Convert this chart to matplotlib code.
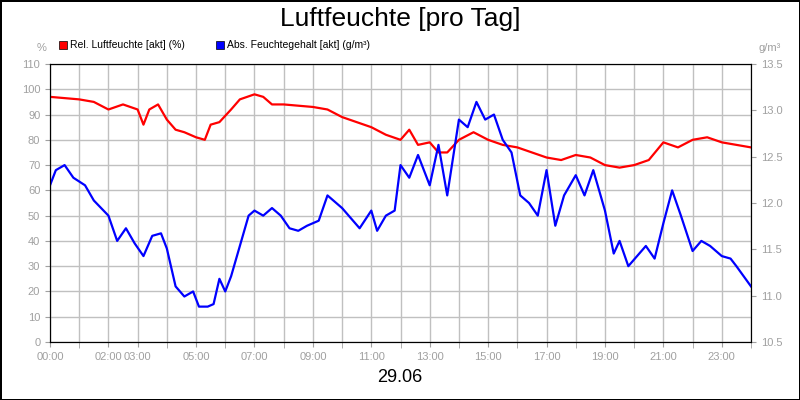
import matplotlib
matplotlib.use("Agg")
import matplotlib.pyplot as plt
import numpy as np

plt.rcParams['font.family'] = ['Liberation Sans', 'DejaVu Sans']

# relative humidity (%), hours
rel_h = [0, 1, 1.5, 2, 2.5, 3, 3.2, 3.4, 3.7, 4, 4.3, 4.6, 5, 5.3, 5.5, 5.8, 6.2, 6.5, 7, 7.3,
         7.6, 8, 9, 9.5, 10, 10.5, 11, 11.5, 12, 12.3, 12.6, 13, 13.3, 13.6, 14, 14.5, 15, 15.5,
         16, 16.5, 17, 17.5, 18, 18.5, 19, 19.5, 20, 20.5, 21, 21.5, 22, 22.5, 23, 23.5, 24]
rel_v = [97, 96, 95, 92, 94, 92, 86, 92, 94, 88, 84, 83, 81, 80, 86, 87, 92, 96, 98, 97,
         94, 94, 93, 92, 89, 87, 85, 82, 80, 84, 78, 79, 75, 75, 80, 83, 80, 78,
         77, 75, 73, 72, 74, 73, 70, 69, 70, 72, 79, 77, 80, 81, 79, 78, 77]

# absolute humidity, read on left % scale, converted to g/m3
abs_h = [0, 0.2, 0.5, 0.8, 1.2, 1.5, 2, 2.3, 2.6, 2.9, 3.2, 3.5, 3.8, 4, 4.3, 4.6, 4.9, 5.1, 5.4,
         5.6, 5.8, 6, 6.2, 6.5, 6.8, 7, 7.3, 7.6, 7.9, 8.2, 8.5, 8.8, 9.2, 9.5, 9.8, 10, 10.3,
         10.6, 11, 11.2, 11.5, 11.8, 12, 12.3, 12.6, 13, 13.3, 13.6, 14, 14.3, 14.6, 14.9, 15.2,
         15.5, 15.8, 16.1, 16.4, 16.7, 17, 17.3, 17.6, 18, 18.3, 18.6, 19, 19.3, 19.5, 19.8,
         20.1, 20.4, 20.7, 21, 21.3, 21.6, 22, 22.3, 22.6, 23, 23.3, 23.5, 24]
abs_pct = [62, 68, 70, 65, 62, 56, 50, 40, 45, 39, 34, 42, 43, 37, 22, 18, 20, 14, 14,
           15, 25, 20, 26, 38, 50, 52, 50, 53, 50, 45, 44, 46, 48, 58, 55, 53, 49,
           45, 52, 44, 50, 52, 70, 65, 74, 62, 78, 58, 88, 85, 95, 88, 90,
           80, 75, 58, 55, 50, 68, 46, 58, 66, 58, 68, 52, 35, 40, 30,
           34, 38, 33, 47, 60, 50, 36, 40, 38, 34, 33, 30, 22]
abs_v = [10.5 + p * 3 / 110 for p in abs_pct]

tick_hours = [0, 2, 3, 5, 7, 9, 11, 13, 15, 17, 19, 21, 23]
tick_labels = [f"{h:02d}:00" for h in tick_hours]

fig = plt.figure(figsize=(8, 4), dpi=100)
fig.patch.set_edgecolor('black')
fig.patch.set_linewidth(2)
ax = fig.add_axes([50 / 800, 58 / 400, 701 / 800, 278 / 400])
ax2 = ax.twinx()

ax.plot(rel_h, rel_v, color='#ff0000', lw=1.6)
ax2.plot(abs_h, abs_v, color='#0000ff', lw=1.6)

ax.set_xlim(0, 24)
ax.set_ylim(0, 110)
ax2.set_ylim(10.5, 13.5)
ax.set_xticks(range(25), minor=True)
ax.set_xticks(tick_hours)
ax.set_xticklabels(tick_labels)
ax.set_yticks(range(0, 111, 10))
ax2.set_yticks(np.arange(10.5, 13.51, 0.5))
ax.grid(True, which='both', axis='x', color='#c0c0c0', lw=1)
ax.grid(True, axis='y', color='#c0c0c0', lw=1)
ax.set_axisbelow(True)
for a in (ax, ax2):
    a.tick_params(colors='#a0a0a0', labelsize=8, which='both')
    for s in a.spines.values():
        s.set_color('black')
ax.tick_params(axis='x', which='minor', length=4, color='#a0a0a0')

fig.text(0.5, 1 - 19 / 400, "Luftfeuchte [pro Tag]", ha='center', va='center', fontsize=19)
fig.text(0.5, 1 - 378 / 400, "29.06", ha='center', va='center', fontsize=13)
fig.text(42 / 800, 1 - 48 / 400, "%", ha='center', va='center', fontsize=8, color='#a0a0a0')
fig.text(770 / 800, 1 - 48 / 400, "g/m³", ha='center', va='center', fontsize=8, color='#a0a0a0')

fig.patches.append(plt.Rectangle((59 / 800, 1 - 49 / 400), 8 / 800, 8 / 400, transform=fig.transFigure,
                                 facecolor='#ff0000', edgecolor='black', lw=0.5))
fig.text(70 / 800, 1 - 45 / 400, "Rel. Luftfeuchte [akt] (%)", va='center', fontsize=7.5)
fig.patches.append(plt.Rectangle((216 / 800, 1 - 49 / 400), 8 / 800, 8 / 400, transform=fig.transFigure,
                                 facecolor='#0000ff', edgecolor='black', lw=0.5))
fig.text(227 / 800, 1 - 45 / 400, "Abs. Feuchtegehalt [akt] (g/m³)", va='center', fontsize=7.5)

fig.savefig("out.png", dpi=100, edgecolor=fig.get_edgecolor())
